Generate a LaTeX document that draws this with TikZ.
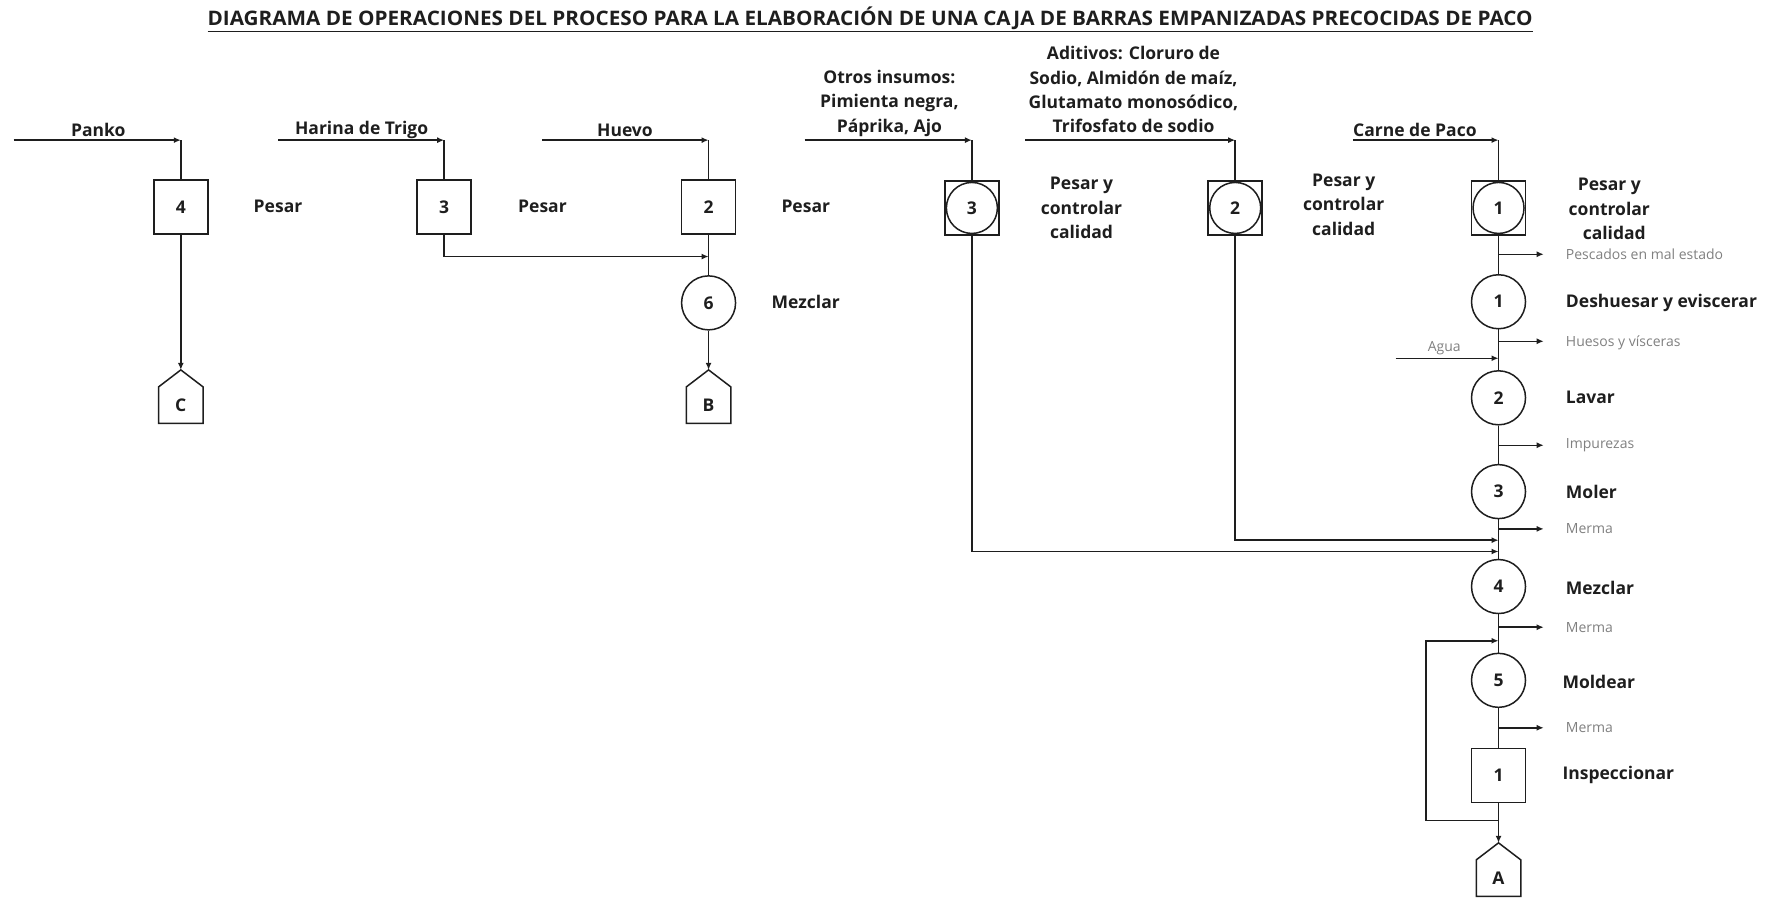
\documentclass[tikz,border=0pt]{standalone}
\usepackage{graphicx}
\usepackage{fontspec}
\setmainfont{Open Sans}
\usetikzlibrary{arrows.meta,calc}

\definecolor{ink}{HTML}{1E1E1E}
\definecolor{wastegray}{HTML}{808080}

\newcommand\dopnum{\bfseries\fontsize{17.5}{21}\selectfont}
\newcommand\doplbl{\bfseries\fontsize{17.5}{24.3}\selectfont}
\newcommand\dopwaste{\fontsize{14}{17}\selectfont}

\begin{document}
\begin{tikzpicture}[x=1.1301pt,y=-1.1301pt,
  line width=1.5pt, draw=ink, text=ink,
  every node/.style={inner sep=0pt},
  arr/.style={-{Latex[length=7pt,width=6pt]}},
  opbox/.style={draw, minimum size=54pt, font=\dopnum},
  opcirc/.style={draw, circle, minimum size=54pt, font=\dopnum},
  incirc/.style={draw, circle, minimum size=51pt, font=\dopnum},
  lbl/.style={font=\doplbl, align=center},
  rlbl/.style={font=\doplbl, anchor=west},
  waste/.style={font=\dopwaste, text=wastegray, anchor=west},
  store/.style={minimum width=43pt, minimum height=35pt, font=\dopnum}
]
\useasboundingbox (0,0) rectangle (1568,796);

% ---------- title ----------
\node (title) at (770,17) {\resizebox{1325pt}{\height}{\fontsize{20}{24}\selectfont\bfseries\underline{DIAGRAMA DE OPERACIONES DEL PROCESO PARA LA ELABORACIÓN DE UNA CAJA DE BARRAS EMPANIZADAS PRECOCIDAS DE PACO}}};

% ---------- Panko ----------
\node[lbl] (t-panko) at (87,115) {Panko};
\coordinate (pk-in) at (12,124);
\coordinate (pk-c) at (160,124);
\node[opbox] (o4) at (160,183) {4};
\node[lbl] (l-o4) at (246,183) {Pesar};
\node[store] (C) at (160,358.5) {C};
\coordinate (C-top) at ($(C.north)+(0,17pt)$);
\draw (C.south west) -- (C.north west) -- (C-top) -- (C.north east) -- (C.south east) -- cycle;
\draw[arr] (pk-in) -- (pk-c);
\draw (pk-c) -- (o4.north);
\draw[arr] (o4.south) -- (C-top);

% ---------- Harina de Trigo ----------
\node[lbl] (t-harina) at (320,115) {Harina de Trigo};
\coordinate (hr-in) at (246,124);
\coordinate (hr-c) at (393,124);
\node[opbox] (o3) at (393,183) {3};
\node[lbl] (l-o3) at (480,183) {Pesar};
\coordinate (j6) at (627,227);
\draw[arr] (hr-in) -- (hr-c);
\draw (hr-c) -- (o3.north);
\draw[arr] (o3.south) |- (j6);

% ---------- Huevo ----------
\node[lbl] (t-huevo) at (553,115) {Huevo};
\coordinate (hv-in) at (480,124);
\coordinate (hv-c) at (627,124);
\node[opbox] (o2) at (627,183) {2};
\node[lbl] (l-o2) at (713,183) {Pesar};
\node[opcirc] (op6) at (627,268) {6};
\node[lbl] (l-op6) at (713,267) {Mezclar};
\node[store] (B) at (627,358.5) {B};
\coordinate (B-top) at ($(B.north)+(0,17pt)$);
\draw (B.south west) -- (B.north west) -- (B-top) -- (B.north east) -- (B.south east) -- cycle;
\draw[arr] (hv-in) -- (hv-c);
\draw (hv-c) -- (o2.north);
\draw (o2.south) -- (op6.north);
\draw[arr] (op6.south) -- (B-top);

% ---------- Otros insumos ----------
\node[lbl] (t-otros) at (787,91.5) {Otros insumos:\\Pimienta negra,\\Páprika, Ajo};
\coordinate (ot-in) at (712,124);
\coordinate (ot-c) at (860,124);
\node[opbox] (c3) at (860,184) {};
\node[incirc] (c3c) at (860,184) {3};
\node[lbl] (l-c3) at (957,184) {Pesar y\\controlar\\calidad};
\draw[arr] (ot-in) -- (ot-c);
\draw (ot-c) -- (c3.north);

% ---------- Aditivos ----------
\node[lbl] (t-adit) at (1003,79.5) {Aditivos: Cloruro de\\Sodio, Almidón de maíz,\\Glutamato monosódico,\\Trifosfato de sodio};
\coordinate (ad-in) at (907,124);
\coordinate (ad-c) at (1093,124);
\node[opbox] (c2) at (1093,184) {};
\node[incirc] (c2c) at (1093,184) {2};
\node[lbl] (l-c2) at (1189,181) {Pesar y\\controlar\\calidad};
\draw[arr] (ad-in) -- (ad-c);
\draw (ad-c) -- (c2.north);

% ---------- Carne de Paco (main line) ----------
\node[lbl] (t-carne) at (1252,115) {Carne de Paco};
\coordinate (cp-in) at (1197,124);
\coordinate (cp-c) at (1326,124);
\node[opbox] (c1) at (1326,184) {};
\node[incirc] (c1c) at (1326,184) {1};
\node[lbl] (l-c1) at (1424,185) {Pesar y\\controlar\\\hspace*{10pt}calidad};
\draw[arr] (cp-in) -- (cp-c);
\draw (cp-c) -- (c1.north);

\node[opcirc] (p1) at (1326,267) {1};
\node[opcirc] (p2) at (1326,352) {2};
\node[opcirc] (p3) at (1326,435) {3};
\node[opcirc] (p4) at (1326,519) {4};
\node[opcirc] (p5) at (1326,602) {5};
\node[opbox]  (i1) at (1326,686) {1};
\node[store] (A) at (1326,777) {A};
\coordinate (A-top) at ($(A.north)+(0,17pt)$);
\draw (A.south west) -- (A.north west) -- (A-top) -- (A.north east) -- (A.south east) -- cycle;

\node[rlbl] (l-p1) at (1385,268) {Deshuesar y eviscerar};
\node[rlbl] (l-p2) at (1385,352) {Lavar};
\node[rlbl] (l-p3) at (1385,435) {Moler};
\node[rlbl] (l-p4) at (1385,520) {Mezclar};
\node[rlbl] (l-p5) at (1382,603) {Moldear};
\node[rlbl] (l-i1) at (1382,686) {Inspeccionar};

\draw (c1.south) -- (p1.north);
\draw (p1.south) -- (p2.north);
\draw (p2.south) -- (p3.north);
\draw (p3.south) -- (p4.north);
\draw (p4.south) -- (p5.north);
\draw (p5.south) -- (i1.north);
\draw[arr] (i1.south) -- (A-top);

% waste outputs
\coordinate (w1) at (1326,225); \coordinate (w1e) at (1366,225);
\coordinate (w2) at (1326,302); \coordinate (w2e) at (1366,302);
\coordinate (w3) at (1326,394); \coordinate (w3e) at (1366,394);
\coordinate (w4) at (1326,468); \coordinate (w4e) at (1366,468);
\coordinate (w5) at (1326,555); \coordinate (w5e) at (1366,555);
\coordinate (w6) at (1326,644); \coordinate (w6e) at (1366,644);
\draw[arr] (w1) -- (w1e);
\draw[arr] (w2) -- (w2e);
\draw[arr] (w3) -- (w3e);
\draw[arr] (w4) -- (w4e);
\draw[arr] (w5) -- (w5e);
\draw[arr] (w6) -- (w6e);
\node[waste] (x1) at (1385,225) {Pescados en mal estado};
\node[waste] (x2) at (1385,303) {Huesos y vísceras};
\node[waste] (x3) at (1385,394) {Impurezas};
\node[waste] (x4) at (1385,468) {Merma};
\node[waste] (x5) at (1385,555) {Merma};
\node[waste] (x6) at (1385,644) {Merma};

% water input
\coordinate (ag-in) at (1235,317);
\coordinate (ag-c) at (1326,317);
\node[font=\dopwaste, text=wastegray] (t-agua) at (1278,308) {Agua};
\draw[arr] (ag-in) -- (ag-c);

% side inputs joining before mixing
\coordinate (in2) at (1326,478);
\coordinate (in3) at (1326,488);
\draw[arr] (c2.south) |- (in2);
\draw[arr] (c3.south) |- (in3);

% rework loop after inspection
\coordinate (lp-a) at (1326,726);
\coordinate (lp-c) at (1262,567);
\coordinate (lp-d) at (1326,567);
\draw[arr] (lp-a) -| (lp-c) -- (lp-d);

\end{tikzpicture}
\end{document}
